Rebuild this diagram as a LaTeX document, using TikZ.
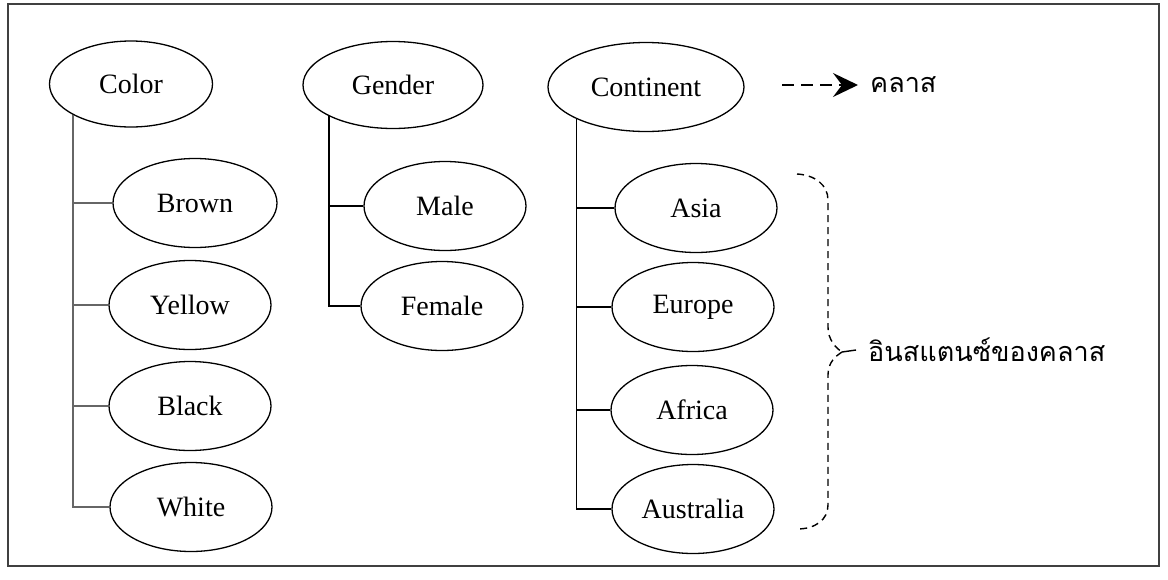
\documentclass[tikz,border=0pt]{standalone}
\usepackage{fontspec}
\setmainfont{Liberation Serif}
\newfontfamily\thaifont[Script=Thai]{Loma}
\usetikzlibrary{shapes.geometric,arrows.meta}

\tikzset{
  entity/.style={ellipse, draw, line width=1.3pt, inner sep=0pt,
    minimum width=162pt, minimum height=89pt,
    font=\fontsize{28}{32}\selectfont},
  treeline/.style={line width=1.3pt},
  greyline/.style={treeline, draw=black!60},
  bracedash/.style={line width=1.4pt, dash pattern=on 7pt off 5pt},
  thailabel/.style={font=\thaifont\fontsize{27}{32}\selectfont, inner sep=0pt}
}

\begin{document}
\begin{tikzpicture}[x=1pt,y=-1pt]
\useasboundingbox (0,0) rectangle (1168,579);
\draw[line width=1.4pt, draw=black!75] (8,4) rectangle (1159,566);

% classes
\node[entity, minimum width=163pt, minimum height=86pt] (color) at (131,84) {Color};
\node[entity, minimum width=180pt, minimum height=87pt] (gender) at (393,85) {Gender};
\node[entity, minimum width=196pt, minimum height=89pt] (continent) at (646,87) {Continent};

% instances of Color
\node[entity, minimum width=164pt] (brown) at (195,203) {Brown};
\node[entity] (yellow) at (190,305) {Yellow};
\node[entity] (black) at (190,406) {Black};
\node[entity] (white) at (191,507) {White};

% instances of Gender
\node[entity] (male) at (445,206) {Male};
\node[entity] (female) at (442,306) {Female};

% instances of Continent
\node[entity] (asia) at (696,208) {Asia};
\node[entity] (europe) at (693,307) {Europe};
\node[entity] (africa) at (692,410) {Africa};
\node[entity] (australia) at (693,509) {Australia};

% tree connectors
\draw[greyline] (color.south west) |- (white.west);
\foreach \c in {brown,yellow,black}
  \draw[greyline] (color.south west |- \c.west) -- (\c.west);

\draw[treeline] (gender.south west) |- (female.west);
\draw[treeline] (gender.south west |- male.west) -- (male.west);

\draw[treeline] (continent.south west) |- (australia.west);
\foreach \c in {asia,europe,africa}
  \draw[treeline] (continent.south west |- \c.west) -- (\c.west);

% legend
\coordinate (legstart) at (782,85);
\node[thailabel, anchor=west] (clslabel) at (870,85) {คลาส};
\draw[line width=1.4pt, dash pattern=on 12pt off 7pt,
      -{Stealth[length=25pt,width=24pt,inset=9pt]}]
  (legstart) -- ([xshift=-12pt]clslabel.west);

% brace around the instances
\coordinate (bracetip) at (842,352);
\node[thailabel, anchor=west] (instlabel) at (868,350) {อินสแตนซ์ของคลาส};
\draw[bracedash] (797,174) .. controls (815,175) and (828,185) .. (828,200)
  -- (828,327) .. controls (828,340) and (836,348) .. (bracetip);
\draw[bracedash] (bracetip) .. controls (836,356) and (828,362) .. (828,375)
  -- (828,505) .. controls (828,520) and (815,529) .. (797,529);
\draw[line width=1.4pt] (bracetip) -- ([xshift=-12pt]instlabel.west);
\end{tikzpicture}
\end{document}
